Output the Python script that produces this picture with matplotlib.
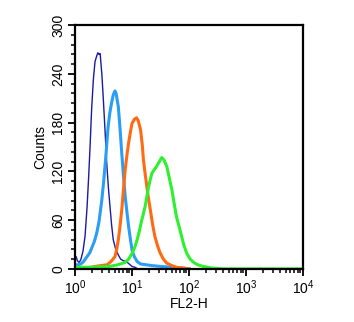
import numpy as np
import matplotlib
matplotlib.use("Agg")
import matplotlib.pyplot as plt
from matplotlib.ticker import MultipleLocator, LogLocator, NullFormatter

plt.rcParams['font.family'] = ['Liberation Sans', 'DejaVu Sans']

# histogram channels as log10(FL2-H), counts per channel
navy_log = [0.00, 0.02, 0.04, 0.07, 0.10, 0.14, 0.175, 0.21, 0.24, 0.263, 0.29, 0.32, 0.35, 0.38,
            0.40, 0.42, 0.44, 0.47, 0.50, 0.53, 0.556, 0.585, 0.614, 0.64, 0.67, 0.71, 0.76, 0.80,
            0.85, 0.90, 0.95, 1.00, 1.05, 1.10]
navy_cnt = [14, 15, 10, 8, 11, 22, 40, 75, 115, 150, 195, 232, 255, 262,
            266, 264, 265, 240, 204, 165, 130, 100, 76, 55, 36, 25, 17, 12,
            10, 9, 6, 3, 2, 0]

blue_log = [0.00, 0.05, 0.10, 0.15, 0.20, 0.26, 0.30, 0.34, 0.38, 0.42, 0.47, 0.50, 0.53, 0.555,
            0.58, 0.61, 0.64, 0.67, 0.70, 0.72, 0.76, 0.79, 0.82, 0.85, 0.88, 0.91, 0.94, 0.97,
            1.00, 1.04, 1.09, 1.15, 1.25, 1.35, 1.50, 1.70, 1.90, 2.00]
blue_cnt = [5, 5, 6, 9, 14, 20, 27, 34, 44, 58, 85, 106, 130, 152,
            175, 192, 204, 214, 219, 216, 199, 172, 142, 114, 89, 70, 52, 37,
            23, 15, 9, 6, 5, 4, 3, 2, 1, 0]

orange_log = [0.00, 0.20, 0.35, 0.45, 0.56, 0.63, 0.70, 0.73, 0.76, 0.79, 0.82, 0.85, 0.88, 0.91,
              0.94, 0.97, 1.00, 1.04, 1.08, 1.11, 1.15, 1.18, 1.20, 1.23, 1.26, 1.29, 1.32, 1.36,
              1.40, 1.45, 1.49, 1.55, 1.61, 1.70, 1.78, 1.90, 2.00]
orange_cnt = [0, 1, 3, 4, 5, 9, 15, 24, 36, 53, 73, 98, 122, 140,
              155, 168, 179, 184, 186, 182, 171, 152, 134, 117, 101, 86, 73, 55,
              40, 28, 20, 12, 7, 4, 2, 1, 0]

green_log = [0.00, 0.30, 0.60, 0.75, 0.88, 0.94, 1.00, 1.05, 1.09, 1.13, 1.17, 1.20, 1.23, 1.26,
             1.29, 1.32, 1.35, 1.39, 1.43, 1.47, 1.52, 1.56, 1.61, 1.65, 1.70, 1.74, 1.78, 1.83,
             1.87, 1.91, 1.96, 2.02, 2.08, 2.15, 2.25, 2.40, 2.60, 4.00]
green_cnt = [2, 2, 3, 5, 8, 12, 19, 27, 36, 47, 60, 68, 77, 89,
             101, 110, 118, 122, 126, 131, 137, 134, 126, 113, 97, 80, 64, 51,
             40, 29, 19, 12, 8, 5, 3, 1, 0, 0]

series = [
    (navy_log, navy_cnt, '#1a1aa6', 1.0),
    (blue_log, blue_cnt, '#2a9df4', 2.2),
    (orange_log, orange_cnt, '#ff6a12', 2.2),
    (green_log, green_cnt, '#2ef02e', 2.2),
]

fig = plt.figure(figsize=(3.54, 3.22), dpi=100)
ax = fig.add_axes([0.212, 0.165, 0.644, 0.757])

for lg, cnt, col, lw in series:
    ax.plot(10 ** np.array(lg), cnt, color=col, lw=lw)

ax.set_xscale('log')
ax.set_xlim(1, 1e4)
ax.set_ylim(0, 300)

ax.yaxis.set_major_locator(MultipleLocator(60))
ax.yaxis.set_minor_locator(MultipleLocator(12))
ax.xaxis.set_major_locator(LogLocator(base=10, numticks=10))
ax.xaxis.set_minor_locator(LogLocator(base=10, subs=np.arange(2, 10), numticks=50))
ax.xaxis.set_minor_formatter(NullFormatter())

for s in ax.spines.values():
    s.set_linewidth(1.6)
ax.tick_params(which='major', length=5, width=1.3, labelsize=10, direction='out', pad=2)
ax.tick_params(which='minor', length=3, width=1.1, direction='out')
ax.tick_params(axis='y', labelrotation=90)
for lbl in ax.get_yticklabels():
    lbl.set_va('center')

ax.set_xlabel('FL2-H', fontsize=10, labelpad=0)
ax.set_ylabel('Counts', fontsize=10, labelpad=3)

fig.savefig('out.png', dpi=100)
